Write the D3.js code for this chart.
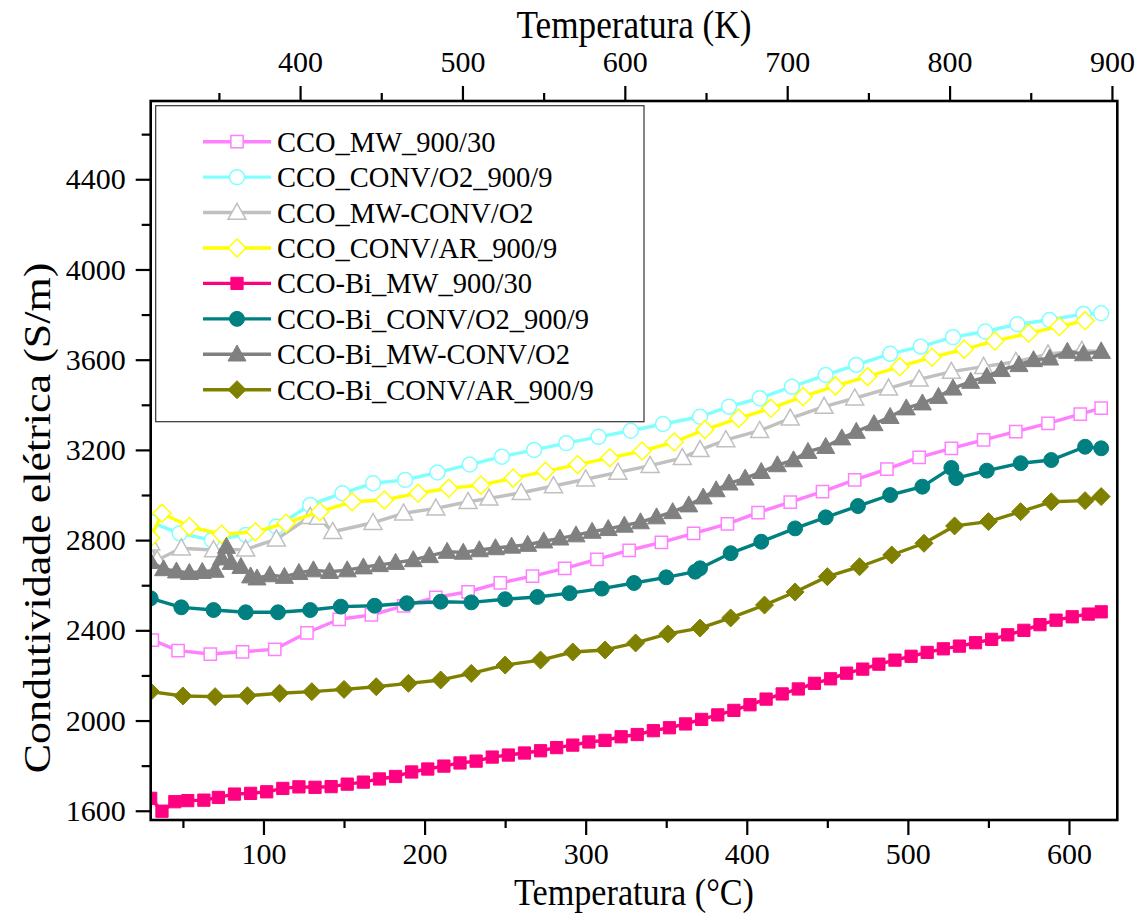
<!DOCTYPE html>
<html>
<head>
<meta charset="utf-8">
<script src="https://cdn.jsdelivr.net/npm/d3@7"></script>
<style>
  html, body { margin: 0; padding: 0; background: #fff; }
  svg text { font-family: "Liberation Serif", "Times New Roman", serif; fill: #000; }
</style>
</head>
<body>
<svg id="chart" width="1145" height="914"></svg>
<script>
// ---- Data: temperature (°C) and electrical conductivity (S/m) per sample ----
const tMW = [31, 47, 67, 87, 107, 127, 147, 167, 187, 207, 227, 247, 267, 287, 307, 327, 347, 367, 388, 407, 427, 447, 467, 487, 507, 527, 547, 567, 587, 607, 620];
const sMW = [2357, 2310, 2295, 2305, 2316, 2389, 2449, 2468, 2508, 2546, 2571, 2610, 2640, 2675, 2715, 2755, 2790, 2830, 2872, 2922, 2968, 3015, 3067, 3115, 3167, 3207, 3244, 3281, 3318, 3359, 3385];

const tConvO2 = [30, 48, 68, 89, 108, 129, 149, 168, 188, 208, 228, 248, 268, 288, 308, 328, 348, 371, 389, 408, 428, 449, 468, 489, 508, 528, 548, 568, 588, 609, 620];
const sConvO2 = [2880, 2830, 2800, 2823, 2860, 2956, 3008, 3052, 3067, 3100, 3135, 3170, 3200, 3230, 3258, 3285, 3315, 3347, 3392, 3429, 3480, 3532, 3577, 3626, 3658, 3700, 3725, 3757, 3776, 3803, 3806];

const tMWConv = [30, 34, 49, 69, 89, 108, 129, 134, 143, 168, 187, 207, 227, 240, 260, 280, 300, 320, 340, 360, 371, 387, 408, 427, 448, 467, 488, 507, 527, 547, 567, 587, 608, 620];
const sMWConv = [2786, 2712, 2764, 2756, 2759, 2804, 2904, 2900, 2837, 2877, 2919, 2941, 2970, 2985, 3010, 3040, 3070, 3100, 3130, 3165, 3200, 3244, 3285, 3340, 3392, 3429, 3473, 3513, 3547, 3569, 3591, 3625, 3640, 3636];

const tConvAr = [30, 37, 54, 74, 95, 114, 135, 155, 175, 196, 215, 235, 255, 275, 295, 315, 335, 355, 374, 395, 415, 435, 455, 475, 495, 515, 535, 554, 575, 594, 610];
const sConvAr = [2810, 2919, 2860, 2826, 2837, 2875, 2926, 2970, 2978, 3008, 3030, 3044, 3075, 3105, 3135, 3165, 3195, 3235, 3290, 3340, 3385, 3436, 3484, 3525, 3569, 3611, 3646, 3683, 3717, 3747, 3773];

const tBiMW = [30, 37, 45, 53, 63, 72, 82, 92, 102, 112, 122, 132, 142, 152, 162, 172, 182, 192, 202, 212, 222, 232, 242, 252, 262, 272, 282, 292, 302, 312, 322, 332, 342, 352, 362, 372, 382, 392, 402, 412, 422, 432, 442, 452, 462, 472, 482, 492, 502, 512, 522, 532, 542, 552, 562, 572, 582, 592, 602, 612, 620];
const sBiMW = [1655, 1598, 1640, 1645, 1647, 1659, 1674, 1677, 1684, 1699, 1706, 1704, 1707, 1718, 1727, 1741, 1752, 1772, 1785, 1798, 1812, 1820, 1838, 1847, 1856, 1866, 1880, 1891, 1905, 1912, 1928, 1938, 1955, 1968, 1985, 2005, 2025, 2045, 2070, 2095, 2118, 2140, 2165, 2185, 2210, 2228, 2250, 2268, 2285, 2302, 2318, 2330, 2345, 2360, 2380, 2400, 2425, 2445, 2460, 2472, 2482];

const tBiConvO2 = [30, 49, 69, 89, 109, 129, 148, 169, 189, 210, 229, 250, 270, 290, 310, 330, 350, 368, 371, 390, 409, 430, 449, 469, 489, 509, 527, 530, 549, 570, 589, 610, 620];
const sBiConvO2 = [2542, 2502, 2490, 2480, 2480, 2490, 2505, 2509, 2520, 2527, 2524, 2538, 2548, 2565, 2585, 2610, 2635, 2660, 2675, 2742, 2793, 2852, 2901, 2951, 3000, 3037, 3120, 3075, 3108, 3141, 3155, 3214, 3207];

const tBiMWConv = [30, 38, 46, 54, 62, 70, 74, 77, 80, 86, 92, 96, 104, 113, 122, 131, 141, 152, 162, 172, 182, 193, 203, 214, 224, 234, 244, 254, 264, 274, 284, 294, 304, 314, 324, 334, 344, 354, 364, 373, 381, 389, 399, 409, 419, 429, 438, 449, 459, 468, 479, 489, 499, 509, 519, 528, 539, 549, 558, 569, 578, 588, 599, 609, 620];
const sBiMWConv = [2704, 2672, 2662, 2655, 2660, 2665, 2720, 2771, 2700, 2682, 2640, 2631, 2645, 2638, 2655, 2667, 2660, 2667, 2680, 2690, 2700, 2712, 2730, 2749, 2745, 2756, 2765, 2772, 2780, 2795, 2808, 2822, 2838, 2850, 2865, 2880, 2902, 2925, 2955, 2990, 3022, 3052, 3074, 3103, 3133, 3155, 3192, 3214, 3252, 3281, 3315, 3347, 3385, 3407, 3436, 3473, 3503, 3525, 3555, 3577, 3599, 3606, 3636, 3625, 3636];

const tBiConvAr = [30, 50, 70, 90, 110, 130, 150, 170, 190, 210, 229, 250, 272, 292, 312, 331, 351, 371, 390, 411, 430, 450, 470, 490, 510, 529, 550, 570, 589, 610, 620];
const sBiConvAr = [2128, 2109, 2106, 2110, 2121, 2128, 2138, 2150, 2165, 2180, 2209, 2246, 2268, 2304, 2313, 2344, 2384, 2410, 2455, 2512, 2570, 2638, 2682, 2734, 2786, 2863, 2882, 2926, 2970, 2975, 2993];

const seriesNames = ["CCO_MW_900/30", "CCO_CONV/O2_900/9", "CCO_MW-CONV/O2", "CCO_CONV/AR_900/9",
                     "CCO-Bi_MW_900/30", "CCO-Bi_CONV/O2_900/9", "CCO-Bi_MW-CONV/O2", "CCO-Bi_CONV/AR_900/9"];
const seriesTemps = [tMW, tConvO2, tMWConv, tConvAr, tBiMW, tBiConvO2, tBiMWConv, tBiConvAr];
const seriesValues = [sMW, sConvO2, sMWConv, sConvAr, sBiMW, sBiConvO2, sBiMWConv, sBiConvAr];
const seriesColors = ["#FF80FF", "#80FFFF", "#C0C0C0", "#FFFF00", "#FF0080", "#008080", "#808080", "#808000"];
const seriesSymbols = ["square", "circle", "triangle", "diamond", "square", "circle", "triangle", "diamond"];
const seriesFilled = [false, false, false, false, true, true, true, true];

const celsiusMajor = [100, 200, 300, 400, 500, 600];
const celsiusMinor = [50, 150, 250, 350, 450, 550];
const kelvinMajor = [400, 500, 600, 700, 800, 900];
const kelvinMinor = [350, 450, 550, 650, 750, 850];
const condMajor = [1600, 2000, 2400, 2800, 3200, 3600, 4000, 4400];
const condMinor = [1800, 2200, 2600, 3000, 3400, 3800, 4200, 4600];

// ---- Layout ----
const plot = { left: 150.7, right: 1117.3, top: 101, bottom: 820 };

const svg = d3.select("#chart");

const x = d3.scaleLinear().domain([30, 630]).range([plot.left, plot.right]);
const xK = d3.scaleLinear().domain([308, 903.3]).range([plot.left, plot.right]);
const y = d3.scaleLinear().domain([1559, 4747]).range([plot.bottom, plot.top]);

svg.append("defs").append("clipPath").attr("id", "plotClip")
  .append("rect")
  .attr("x", plot.left).attr("y", plot.top)
  .attr("width", plot.right - plot.left).attr("height", plot.bottom - plot.top);

// ---- Axes ----
function styleAxis(g) {
  g.attr("font-family", "'Liberation Serif', serif");
  g.select(".domain").remove();
  g.selectAll(".tick line").attr("stroke", "#000").attr("stroke-width", 2.2);
  g.selectAll(".tick text").attr("font-size", 30);
}

// bottom: °C
svg.append("g").attr("transform", `translate(0,${plot.bottom})`)
  .call(d3.axisBottom(x).tickValues(celsiusMajor).tickSize(15).tickPadding(8).tickFormat(d3.format("d")))
  .call(styleAxis);
svg.append("g").attr("transform", `translate(0,${plot.bottom})`)
  .call(d3.axisBottom(x).tickValues(celsiusMinor).tickSize(8).tickFormat(""))
  .call(styleAxis);

// top: K
svg.append("g").attr("transform", `translate(0,${plot.top})`)
  .call(d3.axisTop(xK).tickValues(kelvinMajor).tickSize(15).tickPadding(14).tickFormat(d3.format("d")))
  .call(styleAxis);
svg.append("g").attr("transform", `translate(0,${plot.top})`)
  .call(d3.axisTop(xK).tickValues(kelvinMinor).tickSize(8).tickFormat(""))
  .call(styleAxis);

// left: conductivity
svg.append("g").attr("transform", `translate(${plot.left},0)`)
  .call(d3.axisLeft(y).tickValues(condMajor).tickSize(15).tickPadding(10).tickFormat(d3.format("d")))
  .call(styleAxis);
svg.append("g").attr("transform", `translate(${plot.left},0)`)
  .call(d3.axisLeft(y).tickValues(condMinor).tickSize(9).tickFormat(""))
  .call(styleAxis);

// ---- Series ----
const symbolType = { square: d3.symbolSquare, circle: d3.symbolCircle };
const symbolSize = { square: 150, circle: 175 };

function symbolPath(kind) {
  if (kind === "diamond") {
    const r = 9;
    return `M0,${-r}L${r},0L0,${r}L${-r},0Z`;
  }
  if (kind === "triangle") {
    const h = 16, w = 18;
    return `M0,${-h * 0.58}L${w / 2},${h * 0.42}L${-w / 2},${h * 0.42}Z`;
  }
  return d3.symbol().type(symbolType[kind]).size(symbolSize[kind])();
}

const line = d3.line().x(d => x(d[0])).y(d => y(d[1]));
const plotG = svg.append("g").attr("clip-path", "url(#plotClip)");

seriesNames.forEach((name, i) => {
  const pts = seriesTemps[i].map((t, j) => [t, seriesValues[i][j]]);
  const g = plotG.append("g");
  g.append("path").datum(pts)
    .attr("fill", "none").attr("stroke", seriesColors[i])
    .attr("stroke-width", 3.4).attr("stroke-linejoin", "round")
    .attr("d", line);
  g.selectAll("path.mk").data(pts).enter().append("path")
    .attr("class", "mk")
    .attr("transform", d => `translate(${x(d[0])},${y(d[1])})`)
    .attr("d", symbolPath(seriesSymbols[i]))
    .attr("fill", seriesFilled[i] ? seriesColors[i] : "#fff")
    .attr("stroke", seriesColors[i])
    .attr("stroke-width", seriesFilled[i] ? 1 : 1.5);
});

// ---- Frame ----
svg.append("rect")
  .attr("x", plot.left).attr("y", plot.top)
  .attr("width", plot.right - plot.left).attr("height", plot.bottom - plot.top)
  .attr("fill", "none").attr("stroke", "#000").attr("stroke-width", 2.6);

// ---- Legend ----
const legend = svg.append("g");
legend.append("rect")
  .attr("x", 155.7).attr("y", 105.7).attr("width", 488.3).attr("height", 316)
  .attr("fill", "#fff").attr("stroke", "#333").attr("stroke-width", 1.2);

seriesNames.forEach((name, i) => {
  const cy = 141.7 + i * 35.43;
  const row = legend.append("g").attr("transform", `translate(0,${cy})`);
  row.append("line").attr("x1", 203).attr("x2", 271).attr("y1", 0).attr("y2", 0)
    .attr("stroke", seriesColors[i]).attr("stroke-width", 3.4);
  row.append("path").attr("transform", "translate(237,0)")
    .attr("d", symbolPath(seriesSymbols[i]))
    .attr("fill", seriesFilled[i] ? seriesColors[i] : "#fff")
    .attr("stroke", seriesColors[i])
    .attr("stroke-width", seriesFilled[i] ? 1 : 1.5);
  row.append("text").attr("x", 277).attr("y", 0).attr("dy", "0.35em")
    .style("font-size", "28.5px").text(name);
});

// ---- Axis titles (slightly condensed serif) ----
svg.append("text").attr("transform", "translate(634,38) scale(0.88,1)").attr("text-anchor", "middle")
  .style("font-size", "40px").text("Temperatura (K)");
svg.append("text").attr("transform", "translate(634,905) scale(0.9,1)").attr("text-anchor", "middle")
  .style("font-size", "38px").text("Temperatura (°C)");
svg.append("text").attr("transform", "translate(50,518) rotate(-90) scale(1,0.88)").attr("text-anchor", "middle")
  .style("font-size", "44px").text("Condutividade elétrica (S/m)");
</script>
</body>
</html>
